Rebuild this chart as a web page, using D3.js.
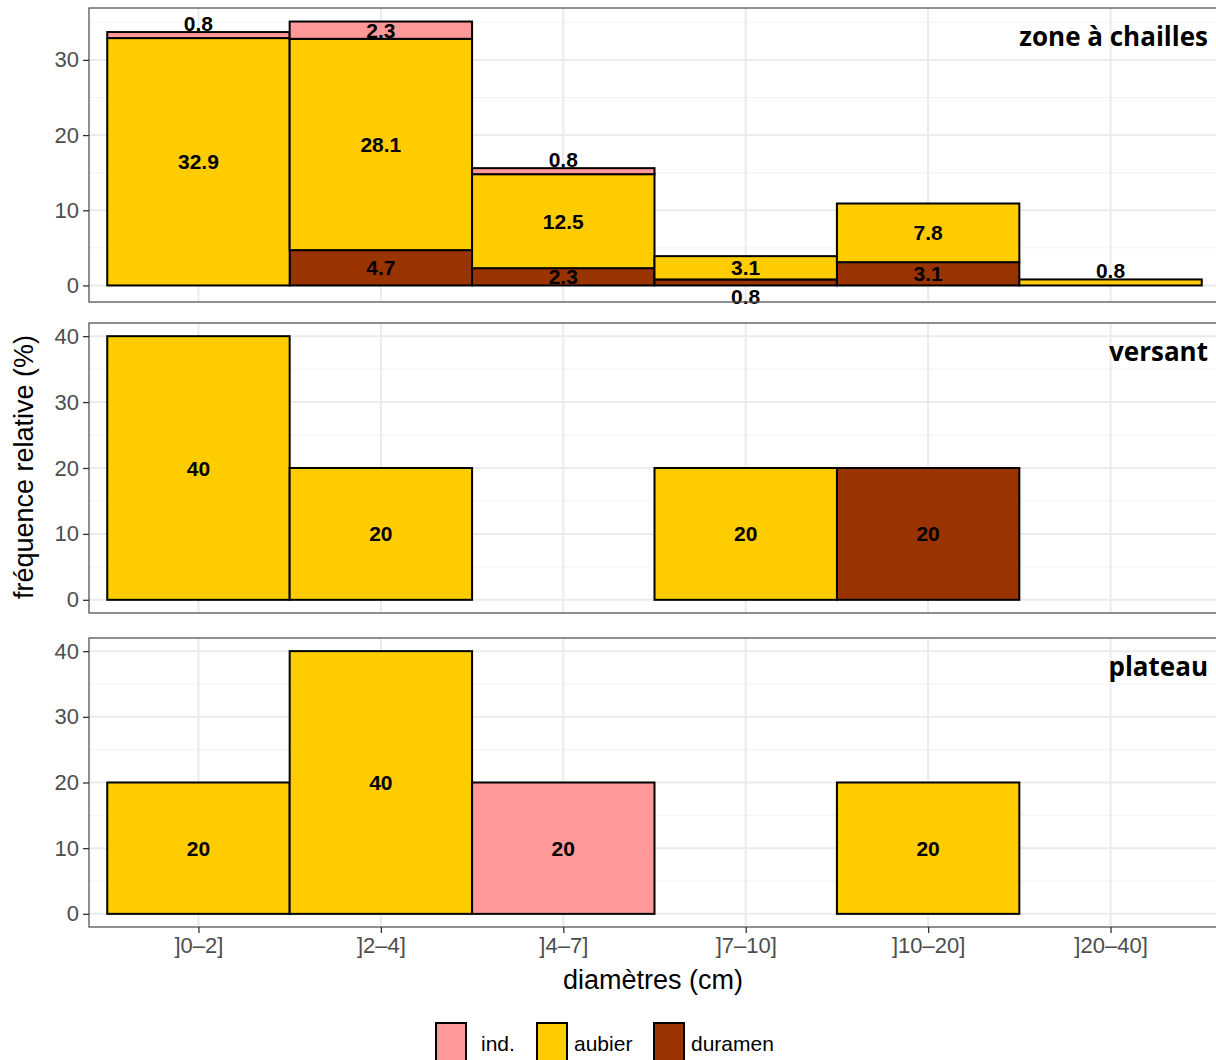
<!DOCTYPE html>
<html><head><meta charset="utf-8">
<script src="https://cdn.jsdelivr.net/npm/d3@7"></script>
<style>body{margin:0;background:#fff}svg{display:block}</style>
</head><body>
<script>
const categories = ["]0–2]","]2–4]","]4–7]","]7–10]","]10–20]","]20–40]"];
const panels = ["zone à chailles","versant","plateau"];
const seriesNames = ["duramen","aubier","ind."]; // stacking order bottom -> top
const legendOrder = ["ind.","aubier","duramen"];
const colors = {"ind.":"#FF9999","aubier":"#FFCC00","duramen":"#993300"};
// values per panel, per category
const zoneInd     = [0.8, 2.3, 0.8, 0,   0,   0];
const zoneAubier  = [32.9,28.1,12.5,3.1, 7.8, 0.8];
const zoneDuramen = [0,   4.7, 2.3, 0.8, 3.1, 0];
const versInd     = [0, 0, 0, 0, 0, 0];
const versAubier  = [40,20, 0,20, 0, 0];
const versDuramen = [0, 0, 0, 0,20, 0];
const platInd     = [0, 0,20, 0, 0, 0];
const platAubier  = [20,40, 0, 0,20, 0];
const platDuramen = [0, 0, 0, 0, 0, 0];
const yTicksZone = [0,10,20,30];
const yTicksOther = [0,10,20,30,40];

const data = [
  {name:panels[0], s:{"ind.":zoneInd,"aubier":zoneAubier,"duramen":zoneDuramen}, dom:[-2.2,36.9], ticks:yTicksZone, top:8, bottom:302},
  {name:panels[1], s:{"ind.":versInd,"aubier":versAubier,"duramen":versDuramen}, dom:[-2,42], ticks:yTicksOther, top:323, bottom:613},
  {name:panels[2], s:{"ind.":platInd,"aubier":platAubier,"duramen":platDuramen}, dom:[-2,42], ticks:yTicksOther, top:638, bottom:927}
];

const W=1216,H=1060, left=89, right=1220;
const svg=d3.select("body").append("svg").attr("width",W).attr("height",H);
const x=d3.scaleLinear().domain([0.4,6.6]).range([left,right]);
const font="'Liberation Sans', Arial, Helvetica, sans-serif";

data.forEach((p,pi)=>{
  const y=d3.scaleLinear().domain(p.dom).range([p.bottom,p.top]);
  const g=svg.append("g");
  g.append("rect").attr("x",left).attr("y",p.top).attr("width",right-left).attr("height",p.bottom-p.top).attr("fill","#fff");
  const minor=p.ticks.map(t=>t+5).filter(t=>t<p.dom[1]);
  g.selectAll(".mn").data(minor).join("line").attr("x1",left).attr("x2",right)
    .attr("y1",d=>y(d)).attr("y2",d=>y(d)).attr("stroke","#F2F2F2").attr("stroke-width",1);
  g.selectAll(".mj").data(p.ticks).join("line").attr("x1",left).attr("x2",right)
    .attr("y1",d=>y(d)).attr("y2",d=>y(d)).attr("stroke","#EBEBEB").attr("stroke-width",2);
  g.selectAll(".vx").data(categories).join("line").attr("y1",p.top).attr("y2",p.bottom)
    .attr("x1",(d,i)=>x(i+1)).attr("x2",(d,i)=>x(i+1)).attr("stroke","#EBEBEB").attr("stroke-width",2);
  const rows=categories.map((c,i)=>{const r={i};seriesNames.forEach(s=>r[s]=p.s[s][i]);return r;});
  const stack=d3.stack().keys(seriesNames)(rows);
  const segs=[];
  stack.forEach(layer=>layer.forEach(d=>{ const v=p.s[layer.key][d.data.i]; if(v>0) segs.push({key:layer.key,i:d.data.i,y0:d[0],y1:d[1],v}); }));
  g.selectAll(".bar").data(segs).join("rect")
    .attr("x",d=>x(d.i+0.5)).attr("width",d=>x(d.i+1.5)-x(d.i+0.5))
    .attr("y",d=>y(d.y1)).attr("height",d=>y(d.y0)-y(d.y1))
    .attr("fill",d=>colors[d.key]).attr("stroke","#000").attr("stroke-width",2);
  g.selectAll(".lab").data(segs).join("text")
    .attr("x",d=>x(d.i+1))
    .attr("y",d=>{let yy=y((d.y0+d.y1)/2); if(d.v<1){ yy += d.key==="duramen"?14:-12; } return yy;})
    .attr("dy","0.36em").attr("text-anchor","middle")
    .attr("font-family",font).attr("font-weight","bold").attr("font-size",21).attr("fill","#000")
    .text(d=>d.v);
  g.append("rect").attr("x",left).attr("y",p.top).attr("width",right-left).attr("height",p.bottom-p.top)
    .attr("fill","none").attr("stroke","#555").attr("stroke-width",1.3);
  const ax=g.append("g").attr("transform",`translate(${left},0)`)
    .call(d3.axisLeft(y).tickValues(p.ticks).tickSize(6).tickPadding(4).tickFormat(d3.format("d")));
  ax.select(".domain").remove();
  ax.selectAll("line").attr("stroke","#333").attr("stroke-width",1.3);
  ax.selectAll("text").attr("font-family",font).attr("font-size",22).attr("fill","#4D4D4D");
  g.append("text").attr("x",1208).attr("y",p.top+29).attr("dy","0.36em").attr("text-anchor","end")
    .attr("font-family","'Open Sans', sans-serif").attr("font-weight","bold").attr("font-size",26)
    .attr("fill","#000").text(p.name);
  if(pi===2){
    const xa=svg.append("g").attr("transform",`translate(0,${p.bottom})`)
      .call(d3.axisBottom(x).tickValues([1,2,3,4,5,6]).tickSize(6).tickPadding(4).tickFormat(d=>categories[d-1]));
    xa.select(".domain").remove();
    xa.selectAll("line").attr("stroke","#333").attr("stroke-width",1.3);
    xa.selectAll("text").attr("font-family",font).attr("font-size",22).attr("fill","#4D4D4D");
  }
});

svg.append("text").attr("x",653).attr("y",989).attr("text-anchor","middle")
  .attr("font-family",font).attr("font-size",27).attr("fill","#000").text("diamètres (cm)");
svg.append("text").attr("transform","translate(33,467) rotate(-90)").attr("text-anchor","middle")
  .attr("font-family",font).attr("font-size",27).attr("fill","#000").text("fréquence relative (%)");

const legBox=[436,537,654], legTxt=[481,574,691];
const lg=svg.append("g");
legendOrder.forEach((k,i)=>{
  lg.append("rect").attr("x",legBox[i]).attr("y",1023).attr("width",30).attr("height",40)
    .attr("fill",colors[k]).attr("stroke","#000").attr("stroke-width",2);
  lg.append("text").attr("x",legTxt[i]).attr("y",1051).attr("font-family",font).attr("font-size",21)
    .attr("fill","#000").text(k);
});
</script>
</body></html>
